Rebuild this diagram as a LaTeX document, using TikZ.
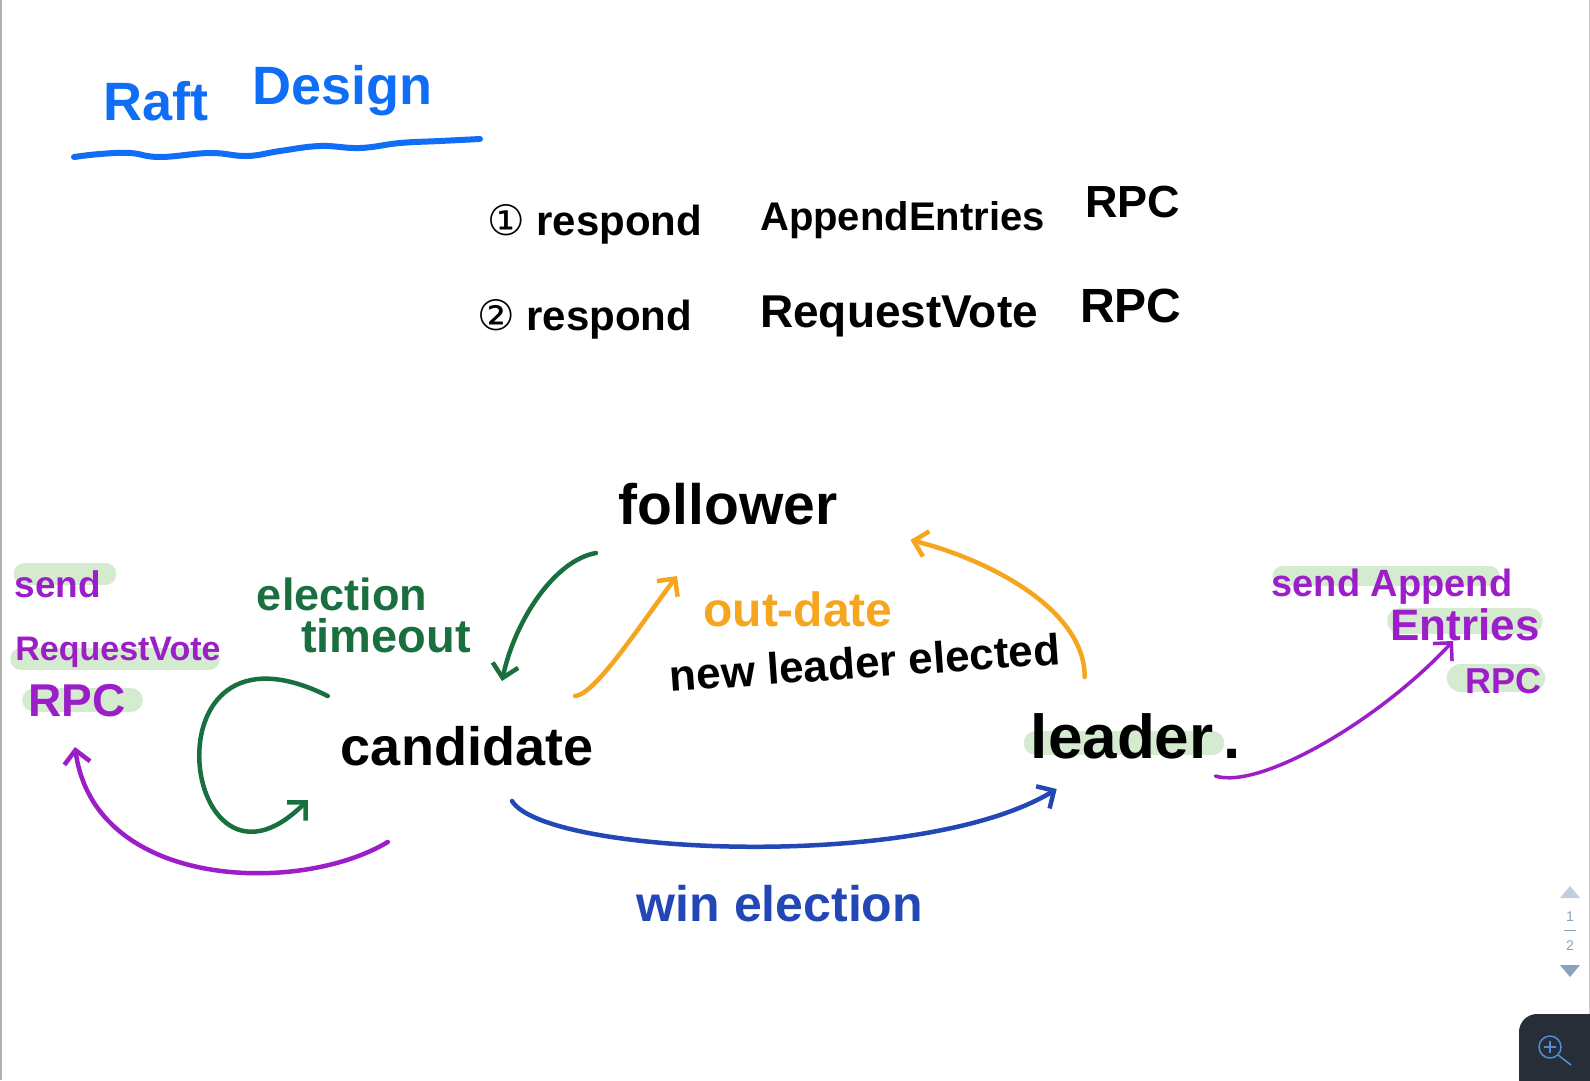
\documentclass[tikz,border=0pt]{standalone}
\usepackage{fontspec}
\setmainfont{Liberation Sans}
\newfontfamily\circfont{DejaVu Sans}
\usetikzlibrary{positioning,arrows.meta,calc,backgrounds}

\definecolor{titleblue}{RGB}{15,110,245}
\definecolor{timegreen}{RGB}{25,112,62}
\definecolor{dateorange}{RGB}{245,165,30}
\definecolor{rpcpurple}{RGB}{155,30,200}
\definecolor{winblue}{RGB}{35,72,182}
\definecolor{hlgreen}{RGB}{212,235,208}
\definecolor{panel}{RGB}{40,46,56}
\definecolor{magblue}{RGB}{80,140,220}
\definecolor{pggray}{RGB}{140,160,192}
\definecolor{uptri}{RGB}{192,206,226}

\newcommand{\handsize}[1]{\fontsize{#1}{#1}\selectfont\bfseries}

\begin{document}
\begin{tikzpicture}[x=1pt, y=1pt,
  word/.style={inner sep=0pt, anchor=base},
  wordl/.style={inner sep=0pt, anchor=base west},
  arr/.style={-{Straight Barb[length=13pt,width=26pt]}, line width=4.5pt, line cap=round},
  hilite/.style={line width=22pt, line cap=round, draw=hlgreen},
]
\useasboundingbox (0,0) rectangle (1590,-1080);

\node[word, font=\handsize{54}, text=titleblue] (title) at (268,-120) {Raft\hspace{44pt}\raisebox{16pt}{Design}};
\draw[titleblue, line width=6pt, line cap=round] plot[smooth, tension=0.7] coordinates {(74,-157) (100,-154) (130,-153) (160,-157) (210,-153) (247,-156) (280,-151) (320,-146) (360,-148) (400,-143) (440,-141) (480,-139)};

\node[wordl, font=\handsize{42}] (resp1) at (487,-235) {{\circfont\mdseries ①} respond};
\node[wordl, font=\handsize{40}] (append) at (760,-230) {AppendEntries};
\node[wordl, font=\handsize{45}] (rpc1) at (1085,-217) {RPC};
\node[wordl, font=\handsize{42}] (resp2) at (477,-330) {{\circfont\mdseries ②} respond};
\node[wordl, font=\handsize{46}] (reqvote) at (760,-327) {RequestVote};
\node[wordl, font=\handsize{48}] (rpc2) at (1080,-322) {RPC};

\node[word, font=\handsize{57}] (follower) at (728,-524) {follower};
\node[word, font=\handsize{54}] (cand) at (467,-765) {candidate};
\node[word, font=\handsize{62}] (leader) at (1136,-758) {leader\,.};

\node[word, font=\handsize{45}, text=timegreen] (elect) at (342,-610) {election};
\node[word, font=\handsize{47}, text=timegreen] (tmo) at (386,-652) {timeout};
\node[word, font=\handsize{48}, text=dateorange] (outdate) at (798,-626) {out-date};
\node[word, font=\handsize{44}, rotate=4] (newlead) at (866,-678) {new leader elected};
\node[word, font=\handsize{50}, text=winblue] (winelec) at (780,-921) {win election};

\node[word, font=\handsize{37}, text=rpcpurple] (sendL) at (58,-597) {send};
\node[word, font=\handsize{34}, text=rpcpurple] (reqL) at (118,-660) {RequestVote};
\node[word, font=\handsize{46}, text=rpcpurple] (rpcL) at (77,-716) {RPC};
\node[word, font=\handsize{38}, text=rpcpurple] (sendR) at (1392,-596) {send Append};
\node[word, font=\handsize{44}, text=rpcpurple] (entR) at (1465,-640) {Entries};
\node[word, font=\handsize{36}, text=rpcpurple] (rpcR) at (1503,-693) {RPC};

\draw[arr, timegreen] ([shift={(-132,-29)}]follower.base) .. controls (555,-560) and (515,-620) .. ([shift={(35,84)}]cand.base);
\draw[arr, dateorange] ([shift={(108,69)}]cand.base) .. controls (595,-695) and (640,-625) .. ([shift={(-51,-52)}]follower.base);
\draw[arr, dateorange] ([shift={(54,81)}]leader.base west) .. controls (1085,-610) and (990,-560) .. ([shift={(73,-16)}]follower.base east);
\draw[arr, timegreen] ([shift={(-13,69)}]cand.base west) .. controls (139,-602) and (182,-926) .. ([shift={(-33,-35)}]cand.base west);
\draw[arr, rpcpurple] ([shift={(47,-77)}]cand.base west) .. controls (300,-895) and (95,-890) .. ([shift={(-2,-31)}]rpcL.base);
\draw[arr, winblue] ([shift={(45,-36)}]cand.base) .. controls (545,-855) and (920,-872) .. ([shift={(26,-31)}]leader.base west);
\draw[arr, rpcpurple, line width=3.5pt] ([shift={(-26,-18)}]leader.base east) .. controls (1260,-790) and (1380,-720) .. ([shift={(-12,-1)}]entR.base);

\draw[gray!60, line width=1.5pt] (1,0) -- (1,-1080);
\draw[gray!40, line width=1pt] (1589,0) -- (1589,-1080);
\fill[uptri] (1560,-898) -- (1580,-898) -- (1570,-886) -- cycle;
\node[font=\fontsize{14}{14}\selectfont, text=pggray] (pgone) at (1570,-917) {1};
\draw[pggray, line width=1pt] (1564,-930) -- (1576,-930);
\node[font=\fontsize{14}{14}\selectfont, text=pggray] (pgtwo) at (1570,-946) {2};
\fill[pggray] (1560,-965) -- (1580,-965) -- (1570,-977) -- cycle;
\fill[panel, rounded corners=18pt] (1519,-1014) rectangle (1630,-1120);
\draw[magblue, line width=1.5pt] (1550,-1047) circle (11);
\draw[magblue, line width=1.5pt] (1558,-1055) -- (1571,-1065);
\draw[magblue, line width=1.2pt] (1544,-1047) -- (1556,-1047) (1550,-1041) -- (1550,-1053);

\begin{scope}[on background layer]
\fill[white] (0,0) rectangle (1590,-1080);
\draw[hilite] ([shift={(10,23)}]sendL.base west) -- ([shift={(4,23)}]sendL.base east);
\draw[hilite] ([shift={(6,1)}]reqL.base west) -- ([shift={(-12,1)}]reqL.base east);
\draw[hilite, line width=24pt] ([shift={(6,16)}]rpcL.base west) -- ([shift={(5,16)}]rpcL.base east);
\draw[hilite, line width=20pt] ([shift={(11,20)}]sendR.base west) -- ([shift={(-23,20)}]sendR.base east);
\draw[hilite, line width=26pt] ([shift={(10,19)}]entR.base west) -- ([shift={(-10,19)}]entR.base east);
\draw[hilite, line width=28pt] ([shift={(-4,15)}]rpcR.base west) -- ([shift={(-10,15)}]rpcR.base east);
\draw[hilite, line width=24pt] ([shift={(5,15)}]leader.base west) -- ([shift={(-29,15)}]leader.base east);
\end{scope}
\end{tikzpicture}
\end{document}
